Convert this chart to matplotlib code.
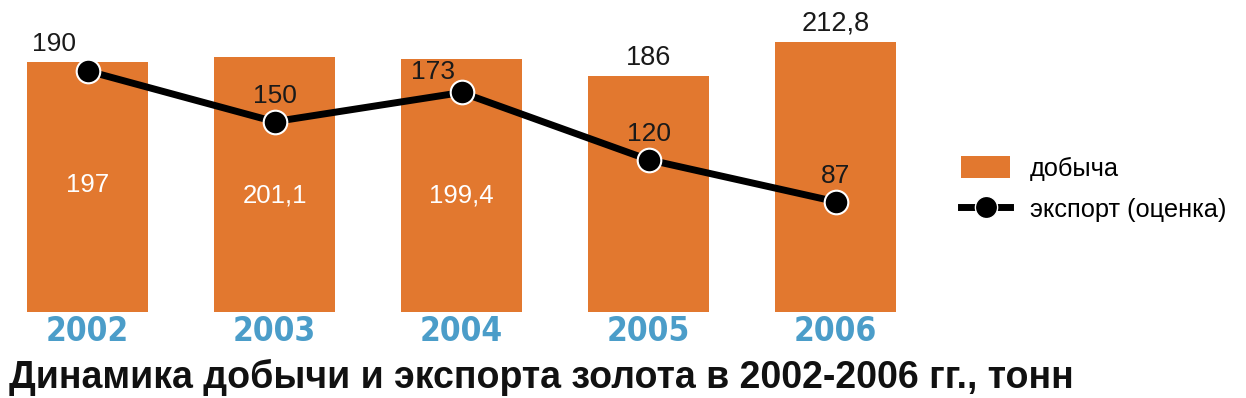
import matplotlib.pyplot as plt
import numpy as np
from matplotlib.patches import Patch
from matplotlib.lines import Line2D
from matplotlib import font_manager

plt.rcParams['font.family'] = ['Liberation Sans', 'DejaVu Sans']

years = ['2002', '2003', '2004', '2005', '2006']
dobycha = [197, 201.1, 199.4, 186, 212.8]
eksport = [190, 150, 173, 120, 87]
dobycha_labels = ['197', '201,1', '199,4', '186', '212,8']
eksport_labels = ['190', '150', '173', '120', '87']

orange = '#e2782f'
blue = '#4b9dc9'

# узкий жирный шрифт для годов, если есть
names = {f.name for f in font_manager.fontManager.ttflist}
if 'Liberation Sans Narrow' in names:
    year_font = dict(family='Liberation Sans Narrow', fontsize=27)
else:
    year_font = dict(family='DejaVu Sans', fontstretch='condensed', fontsize=24)

fig = plt.figure(figsize=(12.46, 3.98), dpi=100)
ax = fig.add_axes([0, 0, 1, 1])
X = np.arange(len(years))

ax.bar(X, dobycha, width=0.65, color=orange, edgecolor='none', zorder=1)
ax.plot(X, eksport, color='black', lw=5, marker='o', ms=17,
        markerfacecolor='black', markeredgecolor='white', markeredgewidth=1.5, zorder=3)

# подписи добычи: первые три внутри столбца (белым), остальные над столбцом
for x, y, s in zip(X, dobycha, dobycha_labels):
    if x < 3:
        yy = 100 if x == 0 else 92
        ax.text(x, yy, s, color='white', fontsize=18.5, ha='center', va='center', zorder=4)
    else:
        ax.text(x, y + 4, s, color='#1a1a1a', fontsize=19.5, ha='center', va='bottom', zorder=4)

# подписи экспорта
offs = [(-0.18, 12), (0, 11), (-0.15, 7), (0, 11), (0, 11)]
for x, y, s, (dx, dy) in zip(X, eksport, eksport_labels, offs):
    ax.text(x + dx, y + dy, s, color='#1a1a1a', fontsize=19, ha='center', va='bottom', zorder=4)

# годы
for x, s in zip(X, years):
    ax.text(x, -15, s, color=blue, fontweight='bold', ha='center', va='center', **year_font)

ax.set_xlim(-0.468, 6.195)
ax.set_ylim(-67.8, 245.9)
ax.axis('off')

handles = [Patch(facecolor=orange, edgecolor='none'),
           Line2D([], [], color='black', lw=5, marker='o', ms=16,
                  markerfacecolor='black', markeredgecolor='white')]
fig.legend(handles, ['добыча', 'экспорт (оценка)'], loc='center left',
           bbox_to_anchor=(938 / 1246, 1 - 189 / 398), frameon=False, fontsize=18.3,
           handlelength=1.95, handleheight=1.0, labelspacing=0.65, handletextpad=0.75)

fig.text(9 / 1246, 1 - 377 / 398, 'Динамика добычи и экспорта золота в 2002-2006 гг., тонн',
         fontsize=27, fontweight='bold', ha='left', va='center', color='#111111')

fig.savefig('out.png', dpi=100)
